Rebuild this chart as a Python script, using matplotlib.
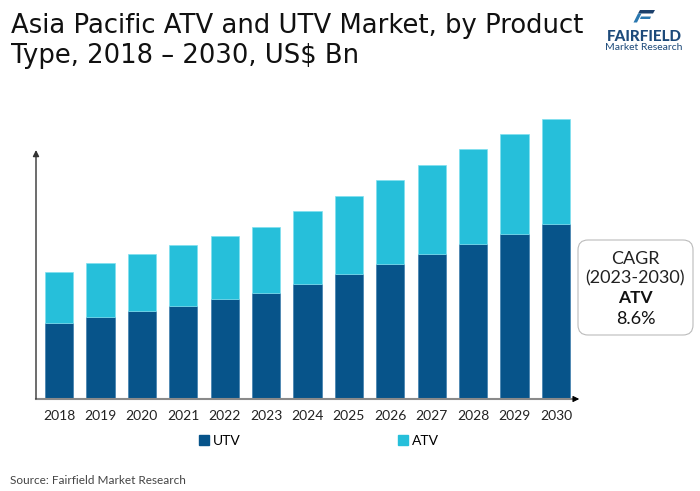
import matplotlib
matplotlib.use("Agg")
import matplotlib.pyplot as plt
from matplotlib.patches import FancyBboxPatch, Polygon, Patch

years = [str(y) for y in range(2018, 2031)]
utv = [0.76, 0.82, 0.877, 0.933, 0.997, 1.057, 1.15, 1.25, 1.35, 1.45, 1.55, 1.65, 1.753]
atv = [0.507, 0.54, 0.576, 0.607, 0.633, 0.666, 0.727, 0.783, 0.84, 0.893, 0.947, 1.003, 1.05]
series_names = ["UTV", "ATV"]

UTV_C = "#07548a"
ATV_C = "#26bfda"
FONT = ["Lato", "DejaVu Sans"]
plt.rcParams['font.family'] = FONT

W, H = 700, 491
fig = plt.figure(figsize=(7, 4.91), dpi=100)
ax = fig.add_axes([36 / W, 92 / H, 546 / W, 289 / H])
x = list(range(len(years)))
ax.bar(x, utv, width=0.68, color=UTV_C, edgecolor="#3f7fae", linewidth=0.5)
ax.bar(x, atv, bottom=utv, width=0.68, color=ATV_C, edgecolor="#7fe0f0", linewidth=0.5)
x0, x1 = -0.556, 12.63
ax.set_xlim(x0, x1)
ax.set_ylim(0, 2.89)
for s in ax.spines.values():
    s.set_visible(False)
ax.set_yticks([])
ax.set_xticks(x)
ax.set_xticklabels(years, fontsize=10, color="#222222")
ax.tick_params(axis='x', length=0, pad=8)

# axes with arrows
ax.plot([x0, x1 - 0.15], [0, 0], color="#8a8a8a", lw=1.5, clip_on=False, zorder=3)
ax.annotate('', xy=(x1, 0), xytext=(x1 - 0.2, 0),
            arrowprops=dict(arrowstyle='-|>', color='black', lw=0.8, mutation_scale=9),
            annotation_clip=False)
ax.annotate('', xy=(x0, 2.49), xytext=(x0, 0),
            arrowprops=dict(arrowstyle='-|>', color='#333333', lw=1.0, mutation_scale=9,
                            shrinkA=0, shrinkB=0),
            annotation_clip=False)

# legend
handles = [Patch(color=UTV_C), Patch(color=ATV_C)]
fig.legend(handles, series_names, loc='center', bbox_to_anchor=(319 / W, 1 - 441 / H),
           ncol=2, frameon=False, fontsize=10, handlelength=0.75, handleheight=0.75,
           handletextpad=0.3, columnspacing=11.3)

# title
fig.text(11 / W, 1 - 13 / H, "Asia Pacific ATV and UTV Market, by Product\nType, 2018 \u2013 2030, US$ Bn",
         fontsize=18.6, va='top', ha='left', color="#111111", linespacing=1.18,
         family=["DejaVu Sans"])

# source
fig.text(10 / W, 1 - 481 / H, "Source: Fairfield Market Research", fontsize=8.5,
         va='center', ha='left', color="#444444")

# CAGR box
box = FancyBboxPatch((578, H - 335), 115, 95, boxstyle="round,pad=0,rounding_size=10",
                     transform=None, facecolor='white', edgecolor='#bbbbbb', lw=0.8)
fig.patches.append(box)
cx = 635.5 / W
fig.text(cx, 1 - 259 / H, "CAGR", fontsize=13, ha='center', va='center', color="#222222")
fig.text(cx, 1 - 278 / H, "(2023-2030)", fontsize=13, ha='center', va='center', color="#222222")
fig.text(cx, 1 - 298 / H, "ATV", fontsize=12.5, ha='center', va='center', color="#111111", weight='bold')
fig.text(cx, 1 - 319 / H, "8.6%", fontsize=13, ha='center', va='center', color="#111111")

# logo
def poly(pts, color):
    fig.patches.append(Polygon([(px, H - py) for px, py in pts], closed=True,
                               transform=None, facecolor=color, edgecolor='none'))
poly([(640, 10), (655, 10), (653, 13.5), (638, 13.5)], "#1b3f6b")
poly([(638, 13.5), (641.5, 13.5), (637, 22.5), (633.5, 22.5)], "#2a78b0")
poly([(641, 16.5), (651, 16.5), (650, 19), (640, 19)], "#2a78b0")
fig.text(644 / W, 1 - 37 / H, "FAIRFIELD", fontsize=11, weight='black', ha='center',
         va='center', color="#1d4a7a")
fig.text(644 / W, 1 - 47.5 / H, "Market Research", fontsize=7.5, ha='center',
         va='center', color="#1d4a7a")

fig.savefig("out.png", dpi=100)
